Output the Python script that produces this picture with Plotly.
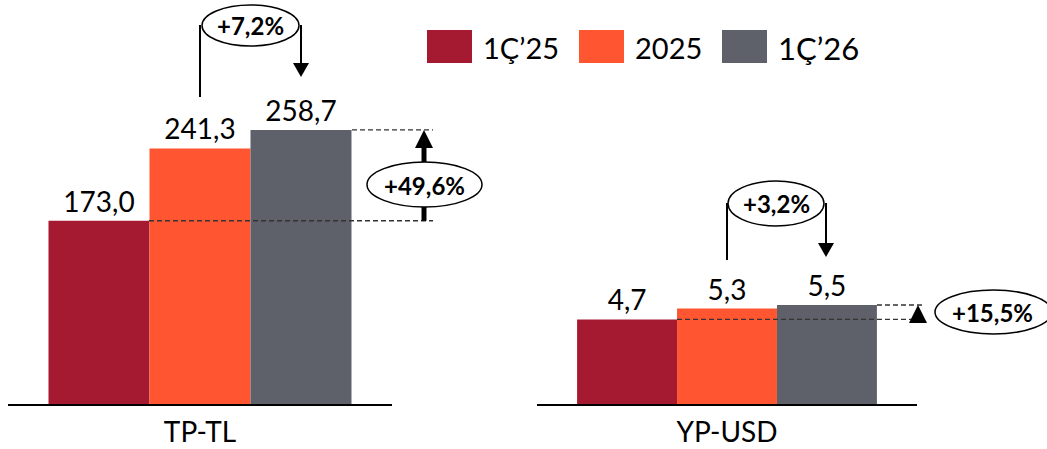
import plotly.graph_objects as go

W, H = 1047, 449
FONT = "Lato"

# ---- data ----
series_names = ["1Ç’25", "2025", "1Ç’26"]
series_colors = ["#A51931", "#FF5631", "#5E6169"]
groups = ["TP-TL", "YP-USD"]
tp_tl_values = [173.0, 241.3, 258.7]
yp_usd_values = [4.7, 5.3, 5.5]
tp_tl_changes = ["+7,2%", "+49,6%"]      # 2025->1Ç'26, 1Ç'25->1Ç'26
yp_usd_changes = ["+3,2%", "+15,5%"]

# ---- layout constants (pixels) ----
BASE = 404                       # baseline pixel row
YMAX_L = 381.4                   # left axis top value (at pixel row 0)
YMAX_R = 22.44                   # right axis top value


def px(x):
    return x / W


def py(y):
    return 1 - y / H


fig = go.Figure()
for gi, (grp, vals) in enumerate(zip(groups, [tp_tl_values, yp_usd_values])):
    xa, ya = ("x", "y") if gi == 0 else ("x2", "y2")
    for si, name in enumerate(series_names):
        fig.add_trace(go.Bar(
            x=[grp], y=[vals[si]], name=name,
            marker=dict(color=series_colors[si], line=dict(width=0)),
            xaxis=xa, yaxis=ya, offsetgroup=str(si),
            texttemplate="%{y:.1f}", textposition="outside",
            textfont=dict(family=FONT, size=28, color="black"),
            cliponaxis=False, showlegend=False, hoverinfo="skip",
        ))

shapes = []
annots = []
DASH = dict(color="#333333", width=1.3, dash="5px,3px")
LBLK = dict(color="black", width=2)


def ellipse(x0, x1, y0, y1):
    shapes.append(dict(type="circle", xref="paper", yref="paper",
                       x0=px(x0), x1=px(x1), y0=py(y1), y1=py(y0),
                       fillcolor="white", line=dict(color="black", width=1.5),
                       layer="above"))


def label(x, y, t):
    annots.append(dict(x=px(x), y=py(y), xref="paper", yref="paper", text=t,
                       showarrow=False, xanchor="center", yanchor="middle",
                       font=dict(family=FONT, size=24, color="black", weight="bold")))


def tri(xc, hw, y_base, y_tip, yref="paper"):
    if yref == "paper":
        yb, yt = py(y_base), py(y_tip)
    else:
        yb, yt = y_base, y_tip
    shapes.append(dict(type="path", xref="paper", yref=yref,
                       path=f"M {px(xc-hw)},{yb} L {px(xc+hw)},{yb} L {px(xc)},{yt} Z",
                       fillcolor="black", line=dict(color="black", width=0)))


# ---- left panel: dashed guides and total-change arrow ----
kL = YMAX_L / BASE   # units per pixel
shapes.append(dict(type="line", xref="paper", yref="y", x0=px(149), x1=px(433),
                   y0=tp_tl_values[0], y1=tp_tl_values[0], line=DASH))
shapes.append(dict(type="line", xref="paper", yref="y", x0=px(352), x1=px(433),
                   y0=tp_tl_values[2], y1=tp_tl_values[2], line=DASH))
shapes.append(dict(type="line", xref="paper", yref="y", x0=px(424), x1=px(424),
                   y0=tp_tl_values[0], y1=tp_tl_values[2] - 16 * kL,
                   line=dict(color="black", width=5)))
tri(424, 9, tp_tl_values[2] - 18 * kL, tp_tl_values[2], yref="y")
ellipse(367, 482, 162, 207)
label(424.5, 185, tp_tl_changes[1])

# left bracket 2025 -> 1Ç'26
shapes.append(dict(type="line", xref="paper", yref="paper", x0=px(200), x1=px(200),
                   y0=py(97), y1=py(25), line=LBLK))
shapes.append(dict(type="line", xref="paper", yref="paper", x0=px(301), x1=px(301),
                   y0=py(25), y1=py(64), line=LBLK))
tri(301, 8, 63, 77)
ellipse(202, 299, 5, 46)
label(250.5, 26, tp_tl_changes[0])

# ---- right panel ----
kR = YMAX_R / BASE
shapes.append(dict(type="line", xref="paper", yref="y2", x0=px(677), x1=px(925),
                   y0=yp_usd_values[0], y1=yp_usd_values[0], line=DASH))
shapes.append(dict(type="line", xref="paper", yref="y2", x0=px(877), x1=px(925),
                   y0=yp_usd_values[2], y1=yp_usd_values[2], line=DASH))
tri(918, 9, yp_usd_values[2] - 18 * kR, yp_usd_values[2], yref="y2")
ellipse(935, 1052, 290, 334)
label(992, 312, yp_usd_changes[1])

shapes.append(dict(type="line", xref="paper", yref="paper", x0=px(727), x1=px(727),
                   y0=py(260), y1=py(203), line=LBLK))
shapes.append(dict(type="line", xref="paper", yref="paper", x0=px(826), x1=px(826),
                   y0=py(203), y1=py(244), line=LBLK))
tri(826, 8, 243, 257)
ellipse(728, 824, 181, 226)
label(776, 204, yp_usd_changes[0])

# ---- legend (drawn manually for large swatches) ----
leg_x = [427, 579, 722]
leg_sizes = [29, 29, 31]
for si, name in enumerate(series_names):
    shapes.append(dict(type="rect", xref="paper", yref="paper",
                       x0=px(leg_x[si]), x1=px(leg_x[si] + 45), y0=py(63), y1=py(30),
                       fillcolor=series_colors[si], line=dict(width=0)))
    annots.append(dict(x=px(leg_x[si] + 54), y=py(48), xref="paper", yref="paper",
                       text=name, showarrow=False, xanchor="left", yanchor="middle",
                       font=dict(family=FONT, size=leg_sizes[si], color="black")))

axis_common = dict(showline=True, linecolor="black", linewidth=2, ticks="",
                   showgrid=False, zeroline=False, fixedrange=True, automargin=False,
                   tickfont=dict(family=FONT, size=28, color="black"),
                   ticklabelstandoff=2)
yaxis_common = dict(visible=False, showgrid=False, zeroline=False, fixedrange=True,
                    automargin=False, domain=[(H - BASE) / H, 1])

fig.update_layout(
    width=W, height=H, autosize=False,
    margin=dict(l=0, r=0, t=0, b=0, pad=0),
    paper_bgcolor="white", plot_bgcolor="white",
    barmode="group", bargap=0.211, bargroupgap=0,
    separators=", ",
    showlegend=False,
    xaxis=dict(domain=[px(8), px(392)], anchor="y", **axis_common),
    xaxis2=dict(domain=[px(537), px(917)], anchor="y2", **axis_common),
    yaxis=dict(range=[0, YMAX_L], anchor="x", **yaxis_common),
    yaxis2=dict(range=[0, YMAX_R], anchor="x2", **yaxis_common),
    shapes=shapes, annotations=annots,
    font=dict(family=FONT, color="black"),
)

fig.write_html("out.html", config={"displayModeBar": False},
               post_script="document.body.style.margin='0';document.body.style.overflow='hidden';")
